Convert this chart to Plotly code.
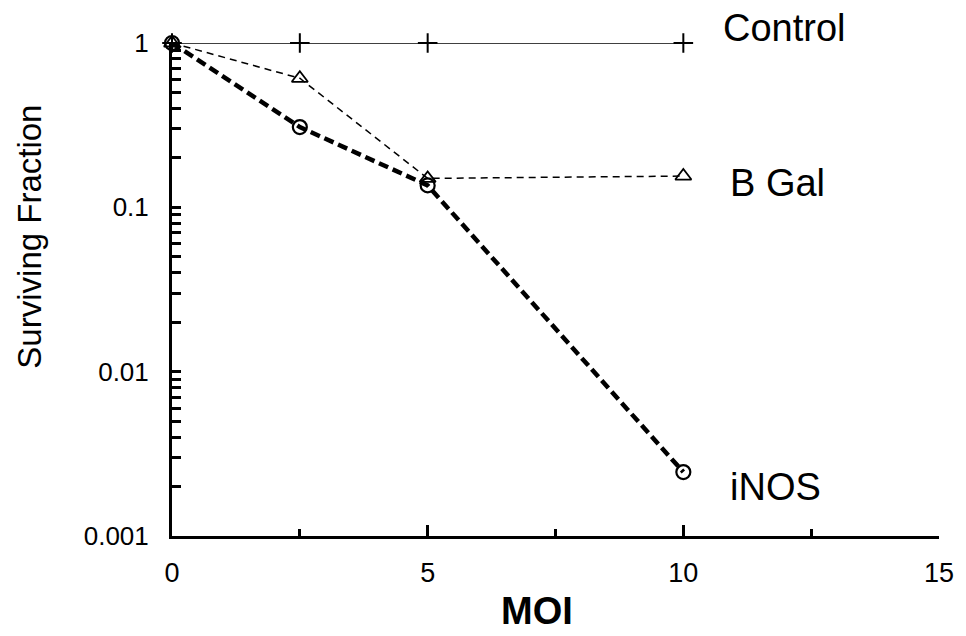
import plotly.graph_objects as go

moi = [0, 2.5, 5, 10]
control = [1.0, 1.0, 1.0, 1.0]
bgal = [1.0, 0.61, 0.15, 0.155]
inos = [1.0, 0.308, 0.136, 0.00245]

y_decades = [0.001, 0.01, 0.1, 1]
y_tick_labels = ["0.001", "0.01", "0.1", "1"]
x_ticks = [0, 5, 10, 15]

FONT = "Liberation Sans, Arial, Helvetica, sans-serif"

fig = go.Figure()
fig.add_trace(go.Scatter(x=moi, y=control, mode="lines+markers", cliponaxis=False,
                         line=dict(color="black", width=1.5),
                         marker=dict(symbol="cross-thin", size=14, line=dict(color="black", width=2))))
fig.add_trace(go.Scatter(x=moi, y=bgal, mode="lines+markers", cliponaxis=False,
                         line=dict(color="black", width=1.5, dash="7px,5px"),
                         marker=dict(symbol="triangle-up-open", size=14, color="black", line=dict(width=1.8))))
fig.add_trace(go.Scatter(x=moi, y=inos, mode="lines+markers", cliponaxis=False,
                         line=dict(color="black", width=4.5, dash="10px,5px"),
                         marker=dict(symbol="circle-open", size=14, color="black", line=dict(width=2.2))))

# y tick positions (all 1..9 per decade), labels only on decades
yvals, ytext = [], []
for d, lab in zip(y_decades[:-1], y_tick_labels[:-1]):
    for m in range(1, 10):
        yvals.append(d * m)
        ytext.append(lab if m == 1 else "")
yvals.append(1)
ytext.append("1")

def ann(text, x, y, size, angle=0):
    return dict(text=text, x=x, y=y, xref="paper", yref="paper", showarrow=False,
                xanchor="center", yanchor="middle", textangle=angle, font=dict(size=size))

fig.update_layout(
    width=966, height=636,
    paper_bgcolor="white", plot_bgcolor="white",
    margin=dict(l=172, r=18, t=43, b=100),
    showlegend=False,
    font=dict(family=FONT, color="black"),
    xaxis=dict(range=[0, 15], tickvals=x_ticks, ticks="inside", ticklen=11, tickwidth=2.5,
               tickcolor="black", showline=True, linewidth=3, linecolor="black",
               showgrid=False, zeroline=False, tickfont=dict(size=27),
               ticklabelstandoff=11,
               minor=dict(tickvals=[2.5, 7.5, 12.5], ticks="inside", ticklen=7, tickwidth=2.5,
                          tickcolor="black", showgrid=False)),
    yaxis=dict(type="log", range=[-3, 0], tickvals=yvals, ticktext=ytext, ticks="inside",
               ticklen=9, tickwidth=2.5, tickcolor="black", showline=True, linewidth=3,
               linecolor="black", showgrid=False, zeroline=False, tickfont=dict(size=26),
               ticklabelstandoff=15),
    annotations=[
        ann("Control", 0.799, 1.030, 38),
        ann("B Gal", 0.789, 0.716, 38),
        ann("iNOS", 0.787, 0.0994, 38),
        ann("<b>MOI</b>", 0.4755, -0.152, 38),
        ann("Surviving Fraction", -0.1856, 0.6065, 33, -90),
    ],
)

fig.write_html("out.html", config={"displayModeBar": False},
               post_script="document.body.style.margin='0';")
